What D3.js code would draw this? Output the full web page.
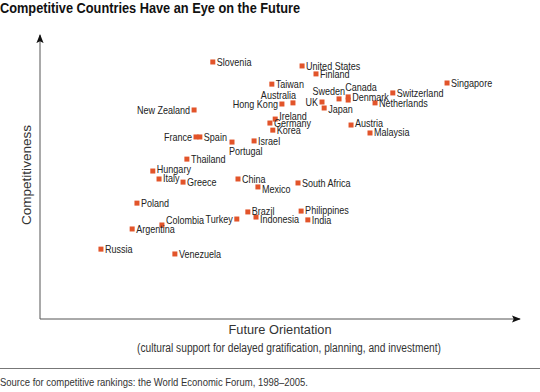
<!DOCTYPE html>
<html><head><meta charset="utf-8">
<script src="https://cdn.jsdelivr.net/npm/d3@7/dist/d3.min.js"></script>
<style>
html,body{margin:0;padding:0;background:#fff;}
svg{display:block;}
text{font-family:"Liberation Sans",Arial,"DejaVu Sans",sans-serif;}
</style></head>
<body>
<script>
// ---- data (index units, 0–100 on each axis) ----
const countries = ["Slovenia","United States","Finland","Taiwan","Australia","Hong Kong","UK","Sweden","Canada","Denmark","Japan","Switzerland","Netherlands","Singapore","New Zealand","Ireland","Germany","Korea","Austria","Malaysia","France","Spain","Portugal","Israel","Thailand","Hungary","Italy","Greece","China","Mexico","South Africa","Poland","Colombia","Argentina","Turkey","Brazil","Indonesia","Philippines","India","Russia","Venezuela"];
const futureOrientation = [36.0,54.6,57.5,48.3,52.7,50.4,58.75,62.3,64.2,64.2,59.2,73.5,69.8,84.8,32.1,49.0,47.9,48.5,64.8,68.75,32.5,33.3,40.0,44.6,30.6,23.5,24.8,29.8,41.25,45.4,53.75,20.2,25.4,19.2,41.0,43.3,45.0,54.4,55.8,12.7,28.1];
const competitiveness = [90.5,89.1,86.3,82.7,76.1,75.7,76.4,77.5,78.2,77.1,74.3,79.6,76.1,83.1,73.6,70.4,69.0,66.5,68.3,65.5,64.1,64.1,62.3,62.7,56.3,52.1,49.3,48.2,49.3,46.5,47.9,40.8,33.1,31.7,35.2,37.7,35.9,38.0,34.9,24.6,22.9];

// ---- layout: label placement (dx, dy in px relative to marker; anchor) ----
const labelLayout = {
  "New Zealand":{dx:-4,dy:4,a:"end"},
  "France":{dx:-4,dy:4,a:"end"},
  "Hong Kong":{dx:-4,dy:4,a:"end"},
  "UK":{dx:-4,dy:4,a:"end"},
  "Turkey":{dx:-4,dy:4,a:"end"},
  "Australia":{dx:3,dy:-4,a:"end"},
  "Sweden":{dx:6,dy:-4,a:"end"},
  "Canada":{dx:-3,dy:-6,a:"start"},
  "Portugal":{dx:-3,dy:13,a:"start"},
  "Colombia":{dx:4,dy:-1,a:"start"},
  "Hungary":{dx:4,dy:2,a:"start"},
  "Ireland":{dx:4,dy:1,a:"start"},
  "Denmark":{dx:4,dy:1,a:"start"},
  "Mexico":{dx:4,dy:6,a:"start"},
  "Indonesia":{dx:4,dy:6,a:"start"},
  "Japan":{dx:4,dy:5,a:"start"},
  "Malaysia":{dx:4,dy:3,a:"start"},
  "Italy":{dx:4,dy:3,a:"start"},
  "Brazil":{dx:4,dy:3,a:"start"},
  "Philippines":{dx:4,dy:3,a:"start"},
  "Austria":{dx:4,dy:2,a:"start"}
};

const W=540,H=392;
const x0=40, x1=520, yTop=35, yBase=319;
const x = d3.scaleLinear().domain([0,100]).range([x0,x1]);
const y = d3.scaleLinear().domain([0,100]).range([yBase,yTop]);

const svg = d3.select("body").append("svg").attr("width",W).attr("height",H);
const defs = svg.append("defs");
defs.append("marker").attr("id","arr").attr("viewBox","0 0 10 10").attr("refX",9).attr("refY",5)
  .attr("markerWidth",9).attr("markerHeight",9).attr("markerUnits","userSpaceOnUse").attr("orient","auto")
  .append("path").attr("d","M0,1 L10,5 L0,9 L2,5 Z").attr("fill","#111");

// condense helper: squeeze a text to a width (narrow-font look)
function squeeze(sel, w){
  sel.each(function(){
    const len = this.getComputedTextLength();
    const target = (typeof w === "function") ? w(len) : w;
    d3.select(this).attr("textLength",target).attr("lengthAdjust","spacingAndGlyphs");
  });
}

// title
svg.append("text").attr("x",0).attr("y",13).attr("font-size",14).attr("font-weight","bold").attr("fill","#111")
  .text("Competitive Countries Have an Eye on the Future").call(squeeze,300);

// axes
svg.append("line").attr("x1",x(0)).attr("y1",y(0)).attr("x2",x(0)).attr("y2",y(100))
  .attr("stroke","#555").attr("stroke-width",1).attr("marker-end","url(#arr)");
svg.append("line").attr("x1",x(0)).attr("y1",y(0)).attr("x2",x(100)).attr("y2",y(0))
  .attr("stroke","#555").attr("stroke-width",1).attr("marker-end","url(#arr)");

// axis titles
svg.append("text").attr("transform","translate(31,175) rotate(-90)").attr("text-anchor","middle")
  .attr("font-size",13).attr("fill","#333").text("Competitiveness").call(squeeze,100);
svg.append("text").attr("x",280).attr("y",334).attr("text-anchor","middle")
  .attr("font-size",13).attr("fill","#333").text("Future Orientation").call(squeeze,103);
svg.append("text").attr("x",289).attr("y",352).attr("text-anchor","middle")
  .attr("font-size",12).attr("fill","#333").text("(cultural support for delayed gratification, planning, and investment)").call(squeeze,304);

// separator and source
svg.append("line").attr("x1",0).attr("x2",W).attr("y1",368.5).attr("y2",368.5).attr("stroke","#777").attr("stroke-width",1);
svg.append("text").attr("x",0).attr("y",386).attr("font-size",11).attr("fill","#333")
  .text("Source for competitive rankings: the World Economic Forum, 1998\u20132005.").call(squeeze,308);

// points
const data = countries.map((c,i)=>({name:c, fx:futureOrientation[i], cp:competitiveness[i]}));
const g = svg.append("g");
g.selectAll("rect").data(data).join("rect")
  .attr("x",d=>x(d.fx)-2.5).attr("y",d=>y(d.cp)-2.5).attr("width",5).attr("height",5)
  .attr("fill","#e2542a");
g.selectAll("text").data(data).join("text")
  .attr("x",d=>x(d.fx)+(labelLayout[d.name]?labelLayout[d.name].dx:4))
  .attr("y",d=>y(d.cp)+(labelLayout[d.name]?labelLayout[d.name].dy:4))
  .attr("text-anchor",d=>labelLayout[d.name]?labelLayout[d.name].a:"start")
  .attr("font-size",11).attr("fill","#222")
  .text(d=>d.name)
  .call(squeeze, len=>len*0.82);
</script>
</body></html>
